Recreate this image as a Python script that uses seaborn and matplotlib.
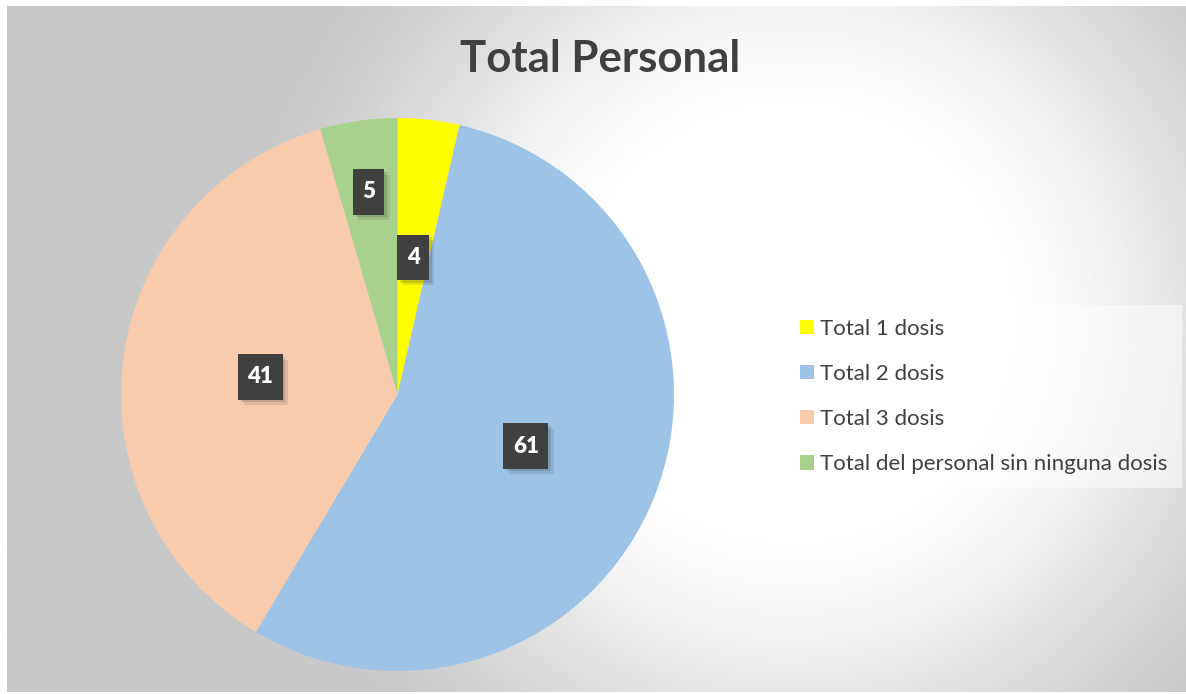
import numpy as np
import matplotlib.pyplot as plt
import matplotlib.patheffects as pe
import seaborn as sns

# data
categories = ['Total 1 dosis', 'Total 2 dosis', 'Total 3 dosis',
              'Total del personal sin ninguna dosis']
values = [4, 61, 41, 5]
colors = ['#FFFF00', '#9DC3E6', '#F8CBAD', '#A9D18E']

sns.set_style('white')
plt.rcParams['font.family'] = ['Lato', 'DejaVu Sans']

W, H = 1186, 694
fig = plt.figure(figsize=(W / 100, H / 100), dpi=100)
fig.patch.set_facecolor('white')

# radial grey/white background
bg = fig.add_axes([7 / W, 2 / H, 1 - 7 / W, 1 - 8 / H])
yy, xx = np.mgrid[0:H, 0:W]
d = np.hypot(xx - 790, yy - 320)
s = np.clip((d - 190) / 400, 0, 1)
s = s * s * (3 - 2 * s)
v = 255 - 55 * s
bg.imshow(v, cmap='gray', vmin=0, vmax=255, aspect='auto', interpolation='bilinear')
bg.axis('off')

# pie axes
cx, cy, r = 397.5, 394.5, 276.5
ax = fig.add_axes([(cx - r) / W, (H - cy - r) / H, 2 * r / W, 2 * r / H])
wedges, _ = ax.pie(values, colors=colors, startangle=90, counterclock=False,
                   radius=1, wedgeprops=dict(linewidth=0))
ax.set_xlim(-1, 1)
ax.set_ylim(-1, 1)
ax.axis('off')

label_r = [0.5, 0.5, 0.5, 0.74]
for w, val, lr in zip(wedges, values, label_r):
    ang = np.deg2rad((w.theta1 + w.theta2) / 2)
    t = ax.text(lr * np.cos(ang), lr * np.sin(ang), str(val), color='white',
                fontsize=16, fontweight='heavy', ha='center', va='center',
                bbox=dict(boxstyle='square,pad=0.42', facecolor='#404040',
                          edgecolor='none', linewidth=0, mutation_aspect=1.3))
    t.get_bbox_patch().set_path_effects([
        pe.SimplePatchShadow(offset=(4, -4), shadow_rgbFace='#333333', alpha=0.12),
        pe.SimplePatchShadow(offset=(2, -2), shadow_rgbFace='#333333', alpha=0.18),
        pe.Normal()])

fig.text(600 / W, 1 - 59 / H, 'Total Personal', ha='center', va='center',
         fontsize=31.5, fontweight='bold', color='#404040')

leg = fig.legend(wedges, categories, loc='upper left',
                 bbox_to_anchor=(786 / W, 1 - 305 / H), borderaxespad=0,
                 fontsize=16, frameon=True, fancybox=False, borderpad=0.62,
                 labelspacing=1.13, handlelength=0.63, handleheight=0.63,
                 handletextpad=0.3, labelcolor='#404040')
leg.get_frame().set_facecolor('white')
leg.get_frame().set_alpha(0.5)
leg.get_frame().set_edgecolor('none')

fig.savefig('out.png', dpi=100)
